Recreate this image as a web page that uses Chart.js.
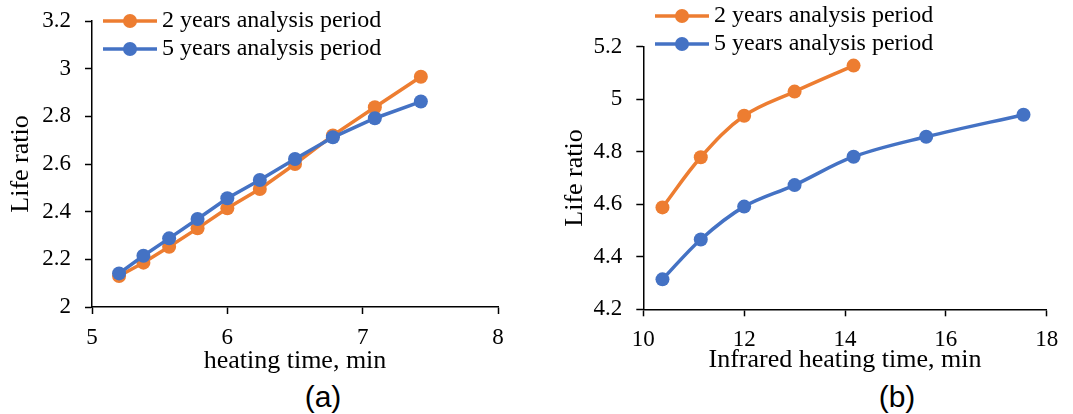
<!DOCTYPE html>
<html>
<head>
<meta charset="utf-8">
<script src="https://cdn.jsdelivr.net/npm/chart.js@4"></script>
<style>
  body { margin: 0; background: #fff; width: 1073px; height: 414px; position: relative; overflow: hidden; }
  .painel { position: absolute; top: 0; height: 380px; }
  .rotulo { position: absolute; top: 381px; font: 30px "Liberation Sans", Arial, sans-serif; line-height: 32px; transform: translateX(-50%); color: #000; }
</style>
</head>
<body>
<div class="painel" style="left:0;width:520px"><canvas id="graficoA"></canvas></div>
<div class="painel" style="left:540px;width:533px"><canvas id="graficoB"></canvas></div>
<div class="rotulo" style="left:323px">(a)</div>
<div class="rotulo" style="left:897px">(b)</div>
<script>
// (a) tempo de aquecimento x razão de vida
const tempoA = [5.2, 5.38, 5.57, 5.78, 6.0, 6.24, 6.5, 6.78, 7.09, 7.43];
const vida2A = [2.13, 2.186, 2.253, 2.33, 2.414, 2.495, 2.60, 2.72, 2.838, 2.966];
const vida5A = [2.141, 2.215, 2.288, 2.369, 2.456, 2.533, 2.621, 2.712, 2.792, 2.862];

// (b) aquecimento infravermelho
const tempoB2 = [10.38, 11.14, 12.0, 13.0, 14.17];
const vida2B = [4.588, 4.779, 4.937, 5.029, 5.128];
const tempoB5 = [10.38, 11.14, 12.0, 13.0, 14.17, 15.61, 17.54];
const vida5B = [4.314, 4.466, 4.591, 4.673, 4.781, 4.857, 4.941];

const rotulo2 = "2 years analysis period";
const rotulo5 = "5 years analysis period";

const LARANJA = "#ED7D31";
const AZUL = "#4472C4";
const SERIF = '"Liberation Serif", "Times New Roman", serif';

function pontos(xs, ys) {
  return xs.map((x, i) => ({ x: x, y: ys[i] }));
}

function serie(label, xs, ys, cor, ordem, tensao) {
  return {
    label: label,
    data: pontos(xs, ys),
    borderColor: cor,
    backgroundColor: cor,
    borderWidth: 3.5,
    pointRadius: 7,
    pointBorderWidth: 0,
    pointBackgroundColor: cor,
    tension: tensao,
    order: ordem,
  };
}

// legenda com linha + marcador, desenhada no canvas
const legendaLinhas = {
  id: "legendaLinhas",
  afterDraw(chart, args, opts) {
    const ctx = chart.ctx;
    const area = chart.chartArea;
    ctx.save();
    ctx.font = "24px " + SERIF;
    ctx.textBaseline = "middle";
    chart.data.datasets.forEach((ds, i) => {
      const y = area.top + opts.top + i * 28;
      const x0 = area.left + opts.left;
      ctx.strokeStyle = ds.borderColor;
      ctx.lineWidth = ds.borderWidth;
      ctx.beginPath();
      ctx.moveTo(x0, y);
      ctx.lineTo(x0 + 54, y);
      ctx.stroke();
      ctx.fillStyle = ds.borderColor;
      ctx.beginPath();
      ctx.arc(x0 + 27, y, ds.pointRadius, 0, Math.PI * 2);
      ctx.fill();
      ctx.fillStyle = "#000";
      ctx.fillText(ds.label, x0 + 59, y);
    });
    ctx.restore();
  },
};

function eixo(min, max, passo, titulo, extra) {
  return Object.assign({
    type: "linear",
    min: min,
    max: max,
    ticks: {
      stepSize: passo,
      color: "#000",
      font: { family: SERIF, size: 23 },
      callback: (v) => String(+v.toFixed(1)),
    },
    grid: { drawOnChartArea: false, drawTicks: true, tickLength: 7, tickColor: "#000", tickWidth: 1.5 },
    border: { color: "#000", width: 1.5 },
    title: { display: true, text: titulo, color: "#000", font: { family: SERIF, size: 26 } },
  }, extra);
}

function montar(id, datasets, cfg) {
  const xs = eixo(cfg.xMin, cfg.xMax, cfg.xPasso, cfg.xTitulo, {
    afterFit(s) { s.height = cfg.altX; },
  });
  xs.ticks.padding = 10;
  xs.title.padding = { top: 0, bottom: cfg.padTituloX };
  // largura fixa do eixo y, sem a folga extra dos rótulos no topo/base
  const ys = eixo(cfg.yMin, cfg.yMax, 0.2, "Life ratio", {
    afterFit(s) { s.width = cfg.largY; s.paddingTop = 0; s.paddingBottom = 0; },
  });
  ys.ticks.padding = 14;
  ys.title.padding = { top: cfg.padTituloY, bottom: 0 };

  return new Chart(document.getElementById(id), {
    type: "line",
    data: { datasets: datasets },
    options: {
      responsive: true,
      maintainAspectRatio: false,
      animation: false,
      layout: { padding: { top: cfg.topo, right: cfg.direita, left: 0, bottom: 0 } },
      plugins: {
        legend: { display: false },
        tooltip: { enabled: false },
        legendaLinhas: cfg.legenda,
      },
      scales: { x: xs, y: ys },
    },
    plugins: [legendaLinhas],
  });
}

montar("graficoA", [
  serie(rotulo2, tempoA, vida2A, LARANJA, 2, 0),
  serie(rotulo5, tempoA, vida5A, AZUL, 1, 0),
], {
  xMin: 5, xMax: 8, xPasso: 1, xTitulo: "heating time, min",
  yMin: 2, yMax: 3.2,
  altX: 73, largY: 92, topo: 21, direita: 22,
  padTituloX: 3, padTituloY: 6,
  legenda: { left: 11, top: 0 },
});

montar("graficoB", [
  serie(rotulo2, tempoB2, vida2B, LARANJA, 2, 0.35),
  serie(rotulo5, tempoB5, vida5B, AZUL, 1, 0.35),
], {
  xMin: 10, xMax: 18, xPasso: 2, xTitulo: "Infrared heating time, min",
  yMin: 4.2, yMax: 5.2,
  altX: 70.7, largY: 103.3, topo: 46.7, direita: 26.3,
  padTituloX: 4.4, padTituloY: 20,
  legenda: { left: 11.7, top: -30.7 },
});
</script>
</body>
</html>
